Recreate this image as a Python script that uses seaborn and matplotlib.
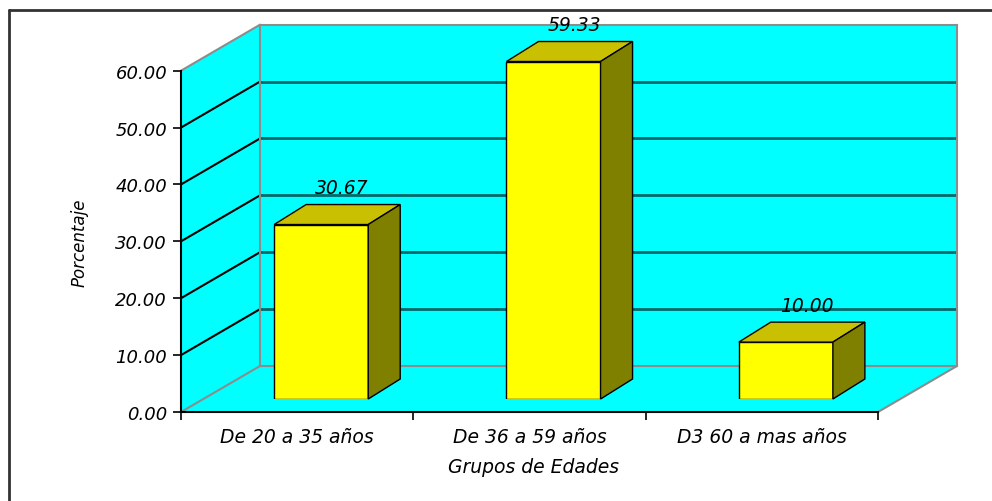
import matplotlib
matplotlib.use("Agg")
import matplotlib.pyplot as plt
from matplotlib.patches import Polygon
import seaborn as sns

# datos
grupos = ["De 20 a 35 años", "De 36 a 59 años", "D3 60 a mas años"]
porcentaje = [30.67, 59.33, 10.00]
yticks = [0, 10, 20, 30, 40, 50, 60]

sns.set_style("white")
plt.rcParams['font.family'] = ['DejaVu Sans']
plt.rcParams['font.style'] = 'italic'
plt.rcParams['font.size'] = 13
plt.rcParams['text.color'] = 'black'
plt.rcParams['xtick.color'] = 'black'
plt.rcParams['ytick.color'] = 'black'
plt.rcParams['axes.labelcolor'] = 'black'

W, H = 992, 502
fig = plt.figure(figsize=(W / 100, H / 100), dpi=100)

# geometria del efecto 3D (pixeles)
x0, y0 = 181, 413        # esquina frontal inferior izquierda
pw, ph = 697, 341.3      # ancho / alto del plano frontal
dep_x, dep_y = 79, 46    # profundidad de la caja
bar_x, bar_y = 24, 13    # desplazamiento del plano de las barras
bar_dx, bar_dy = 32, 20  # grosor de las barras

cian = '#00ffff'
gris = '#8c8c8c'
ymax = yticks[-1]


def rect(dx, dy):
    return [(x0 + dx) / W, (H - y0 + dy) / H, pw / W, ph / H]


# fondo: marco, pared izquierda y piso
bg = fig.add_axes([0, 0, 1, 1])
bg.set_xlim(0, W)
bg.set_ylim(H, 0)
bg.axis('off')
bg.plot([9, W], [11, 11], color='#333333', lw=2)
bg.plot([9, 9], [11, H], color='#333333', lw=2)

y_top = y0 - ph
pared = [(x0, y0), (x0, y_top), (x0 + dep_x, y_top - dep_y), (x0 + dep_x, y0 - dep_y)]
piso = [(x0, y0), (x0 + pw, y0), (x0 + pw + dep_x, y0 - dep_y), (x0 + dep_x, y0 - dep_y)]
bg.add_patch(Polygon(pared, closed=True, facecolor=cian, edgecolor='none'))
bg.add_patch(Polygon(piso, closed=True, facecolor=cian, edgecolor='none'))
for v in yticks:
    yy = y0 - v * ph / ymax
    c = 'black' if 0 < v < ymax else gris
    bg.plot([x0, x0 + dep_x], [yy, yy - dep_y], color=c, lw=1.5)
bg.plot([x0 + pw, x0 + pw + dep_x], [y0, y0 - dep_y], color=gris, lw=1.5)

# pared del fondo
back = fig.add_axes(rect(dep_x, dep_y))
back.set_facecolor(cian)
back.set_xlim(-0.5, 2.5)
back.set_ylim(0, ymax)
back.set_xticks([])
back.set_yticks(yticks[1:-1])
back.tick_params(left=False, labelleft=False)
back.grid(axis='y', color='#006868', lw=2)
for s in back.spines.values():
    s.set_visible(True)
    s.set_color(gris)
    s.set_linewidth(1.5)

# barras
axb = fig.add_axes(rect(bar_x, bar_y))
axb.patch.set_alpha(0)
sns.barplot(x=grupos, y=porcentaje, ax=axb, color='#ffff00', saturation=1,
            width=0.405, edgecolor='black', linewidth=1)
axb.set_xlim(-0.5, 2.5)
axb.set_ylim(0, ymax)
axb.axis('off')

ddx = bar_dx / (pw / len(grupos))
ddy = bar_dy / (ph / ymax)
for p, v in zip(axb.patches, porcentaje):
    xl, w, h = p.get_x(), p.get_width(), p.get_height()
    top = [(xl, h), (xl + w, h), (xl + w + ddx, h + ddy), (xl + ddx, h + ddy)]
    side = [(xl + w, 0), (xl + w + ddx, ddy), (xl + w + ddx, h + ddy), (xl + w, h)]
    axb.add_patch(Polygon(top, closed=True, facecolor='#c8c000', edgecolor='black',
                          lw=1, clip_on=False))
    axb.add_patch(Polygon(side, closed=True, facecolor='#808000', edgecolor='black',
                          lw=1, clip_on=False))
    axb.annotate(f"{v:.2f}", (xl + w / 2, h), xytext=(21, 37), textcoords='offset pixels',
                 ha='center', va='center', annotation_clip=False, fontsize=13.5)

# ejes frontales
ax = fig.add_axes(rect(0, 0))
ax.patch.set_alpha(0)
ax.set_xlim(-0.5, 2.5)
ax.set_ylim(0, ymax)
ax.set_yticks(yticks)
ax.set_yticklabels([f"{v:.2f}" for v in yticks])
ax.set_xticks([-0.5, 0.5, 1.5, 2.5])
ax.set_xticklabels([])
ax.set_xticks([0, 1, 2], minor=True)
ax.set_xticklabels(grupos, minor=True, fontsize=13.5)
ax.tick_params(axis='both', which='major', direction='out', length=6, width=1.2,
               color='black', left=True, bottom=True, pad=4)
ax.tick_params(axis='x', which='minor', length=0, pad=11)
for s in ['top', 'right']:
    ax.spines[s].set_visible(False)
for s in ['left', 'bottom']:
    ax.spines[s].set_color('black')
    ax.spines[s].set_linewidth(1.5)
ax.set_ylabel("Porcentaje", va='center', fontsize=12)
ax.yaxis.set_label_coords((80 - x0) / pw, (y0 - 243) / ph)
ax.set_xlabel("Grupos de Edades", va='center', fontsize=13.5)
ax.xaxis.set_label_coords((533 - x0) / pw, (y0 - 468) / ph)

fig.savefig("out.png", dpi=100)
